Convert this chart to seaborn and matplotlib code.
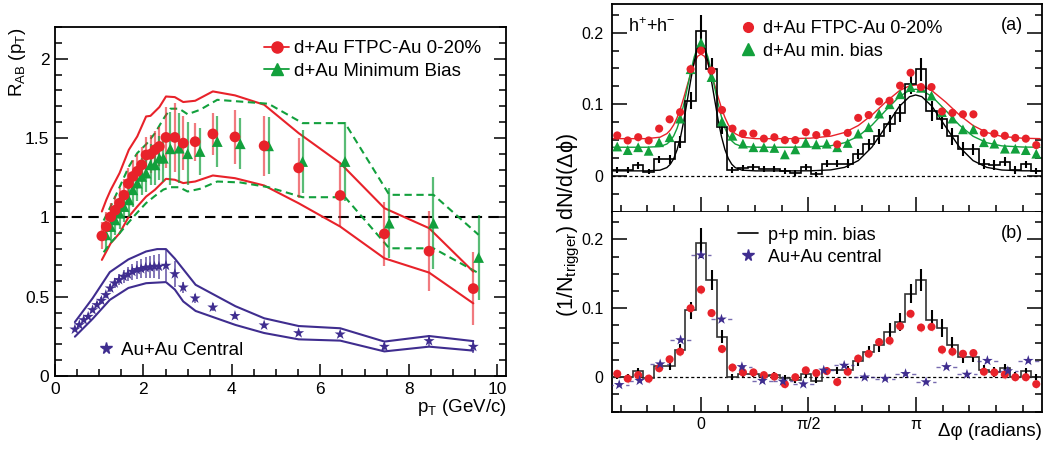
import numpy as np
import matplotlib
matplotlib.use("Agg")
import matplotlib.pyplot as plt
import seaborn as sns
from matplotlib.lines import Line2D
from matplotlib.ticker import MultipleLocator, FixedLocator, FuncFormatter

# ---------------- Left panel: R_AB vs pT ----------------
dau_cent_pt = [1.06, 1.16, 1.26, 1.36, 1.46, 1.56, 1.66, 1.76, 1.86, 1.96, 2.06, 2.16, 2.26, 2.36,
               2.51, 2.71, 2.90, 3.17, 3.57, 4.07, 4.73, 5.51, 6.45, 7.45, 8.46, 9.46]
dau_cent_r = [0.883, 0.942, 1.003, 1.045, 1.089, 1.140, 1.213, 1.258, 1.290, 1.331, 1.393, 1.398, 1.426, 1.447,
              1.504, 1.504, 1.468, 1.477, 1.526, 1.507, 1.451, 1.312, 1.138, 0.896, 0.787, 0.551]
dau_cent_err = [0.085, 0.09, 0.09, 0.09, 0.095, 0.10, 0.10, 0.105, 0.11, 0.11, 0.115, 0.12, 0.12, 0.125,
                0.19, 0.22, 0.17, 0.12, 0.13, 0.17, 0.19, 0.19, 0.20, 0.20, 0.25, 0.23]

dau_mb_pt = [1.15, 1.26, 1.36, 1.46, 1.56, 1.67, 1.76, 1.86, 1.96, 2.06, 2.16, 2.26, 2.36, 2.45,
             2.61, 2.81, 3.00, 3.28, 3.67, 4.19, 4.83, 5.60, 6.56, 7.56, 8.56, 9.58]
dau_mb_r = [0.890, 0.942, 0.984, 1.026, 1.068, 1.110, 1.174, 1.216, 1.258, 1.279, 1.331, 1.331, 1.373, 1.373,
            1.432, 1.436, 1.401, 1.415, 1.478, 1.464, 1.451, 1.352, 1.352, 0.963, 0.963, 0.747]
dau_mb_err = [0.09, 0.09, 0.095, 0.10, 0.10, 0.105, 0.11, 0.11, 0.115, 0.12, 0.13, 0.13, 0.14, 0.15,
              0.23, 0.22, 0.20, 0.15, 0.16, 0.16, 0.18, 0.20, 0.25, 0.22, 0.29, 0.27]

auau_pt = [0.45, 0.55, 0.65, 0.75, 0.85, 0.95, 1.05, 1.15, 1.25, 1.35, 1.45, 1.55, 1.65, 1.75, 1.85,
           1.95, 2.05, 2.15, 2.25, 2.35, 2.51, 2.71, 2.90, 3.17, 3.57, 4.07, 4.73, 5.51, 6.45, 7.45, 8.46, 9.46]
auau_r = [0.294, 0.322, 0.353, 0.374, 0.416, 0.448, 0.475, 0.511, 0.553, 0.585, 0.606, 0.627, 0.641, 0.658,
          0.669, 0.675, 0.683, 0.686, 0.690, 0.690, 0.696, 0.643, 0.559, 0.490, 0.433, 0.379, 0.320, 0.271,
          0.263, 0.185, 0.221, 0.185]
auau_err = [0.01, 0.01, 0.01, 0.01, 0.015, 0.015, 0.02, 0.02, 0.025, 0.03, 0.035, 0.04, 0.045, 0.05, 0.055,
            0.06, 0.065, 0.07, 0.075, 0.08, 0.10, 0.08, 0.035, 0.03, 0.025, 0.02, 0.015, 0.015, 0.02, 0.02,
            0.035, 0.04]

# systematic bands
cent_up_pt = [1.06, 1.16, 1.26, 1.46, 1.67, 1.86, 2.06, 2.16, 2.36, 2.51, 2.71, 2.90, 3.17, 3.57, 4.07,
              4.73, 5.51, 6.45, 7.45, 8.46, 9.46]
cent_up_r = [1.037, 1.110, 1.173, 1.279, 1.426, 1.510, 1.636, 1.640, 1.695, 1.762, 1.758, 1.727, 1.735, 1.794,
             1.769, 1.710, 1.531, 1.342, 1.058, 0.932, 0.658]
cent_lo_pt = [1.06, 1.26, 1.46, 1.67, 1.86, 2.06, 2.26, 2.51, 2.71, 2.90, 3.17, 3.57, 4.07, 4.73, 5.51,
              6.45, 7.45, 8.46, 9.46]
cent_lo_r = [0.732, 0.837, 0.900, 1.005, 1.068, 1.131, 1.174, 1.243, 1.237, 1.216, 1.226, 1.264, 1.247, 1.201,
             1.089, 0.942, 0.742, 0.652, 0.458]

mb_band_pt = [1.10, 1.26, 1.46, 1.67, 1.86, 2.06, 2.26, 2.45, 2.61, 2.81, 3.00, 3.28, 3.67, 4.19, 4.83,
              5.60, 6.56, 7.56, 8.56, 9.58]
mb_up_r = [0.98, 1.07, 1.19, 1.32, 1.405, 1.46, 1.53, 1.62, 1.685, 1.685, 1.65, 1.678, 1.741, 1.73, 1.716,
           1.594, 1.594, 1.142, 1.142, 0.89]
mb_lo_r = [0.78, 0.84, 0.90, 0.97, 1.03, 1.09, 1.135, 1.175, 1.19, 1.19, 1.163, 1.18, 1.226, 1.22, 1.19,
           1.127, 1.127, 0.805, 0.805, 0.648]

auau_up_pt = [0.45, 0.85, 1.24, 1.66, 2.06, 2.31, 2.51, 2.71, 3.18, 4.08, 4.73, 5.51, 6.45, 7.45, 8.46, 9.46]
auau_up_r = [0.34, 0.49, 0.655, 0.735, 0.785, 0.80, 0.80, 0.74, 0.575, 0.44, 0.364, 0.315, 0.301, 0.217,
             0.252, 0.22]
auau_lo_pt = [0.45, 0.85, 1.24, 1.66, 2.06, 2.51, 2.71, 2.90, 3.18, 4.08, 4.73, 5.51, 6.45, 7.45, 8.46, 9.46]
auau_lo_r = [0.248, 0.36, 0.48, 0.555, 0.585, 0.592, 0.545, 0.47, 0.41, 0.322, 0.271, 0.231, 0.223, 0.155,
             0.185, 0.16]

# ---------------- Right panels: dN/d(dphi) ----------------
bin_index = np.arange(-8, 33)          # 41 bins over 2*pi
bin_w = 2 * np.pi / 41
pp_a = [0.008, 0.008, 0.015, 0.006, 0.023, 0.023, 0.047, 0.105, 0.202, 0.149, 0.068, 0.008, 0.011, 0.012,
        0.010, 0.010, 0.007, 0.004, 0.012, 0.002, 0.017, 0.017, 0.017, 0.030, 0.044, 0.055, 0.073, 0.088,
        0.128, 0.149, 0.091, 0.079, 0.055, 0.038, 0.037, 0.017, 0.015, 0.020, 0.008, 0.016, 0.007]
pp_err = [0.004, 0.004, 0.005, 0.004, 0.005, 0.006, 0.008, 0.012, 0.022, 0.015, 0.009, 0.004, 0.004, 0.004,
          0.004, 0.004, 0.004, 0.004, 0.004, 0.004, 0.005, 0.005, 0.006, 0.007, 0.008, 0.010, 0.012, 0.013,
          0.014, 0.016, 0.014, 0.013, 0.012, 0.010, 0.008, 0.007, 0.007, 0.006, 0.006, 0.005, 0.004]
dau_cent_a = [0.0565, 0.0495, 0.054, 0.0495, 0.066, 0.079, 0.089, 0.149, 0.175, 0.147, 0.092, 0.066, 0.059,
              0.059, 0.052, 0.054, 0.050, 0.050, 0.061, 0.057, 0.060, 0.044, 0.060, 0.081, 0.085, 0.104,
              0.105, 0.126, 0.144, 0.124, 0.124, 0.090, 0.088, 0.086, 0.086, 0.060, 0.059, 0.056, 0.053,
              0.052, 0.043]
dau_mb_a = [0.041, 0.036, 0.040, 0.035, 0.047, 0.054, 0.080, 0.149, 0.186, 0.138, 0.076, 0.056, 0.045,
            0.040, 0.040, 0.039, 0.030, 0.037, 0.047, 0.044, 0.045, 0.040, 0.046, 0.059, 0.068, 0.087,
            0.100, 0.114, 0.124, 0.123, 0.112, 0.089, 0.080, 0.065, 0.065, 0.047, 0.045, 0.038, 0.038,
            0.036, 0.031]

fit_dphi = [-1.32, -1.0, -0.8, -0.6, -0.5, -0.45, -0.4, -0.35, -0.3, -0.25, -0.2, -0.15, -0.1, -0.05, 0.0,
            0.05, 0.1, 0.15, 0.2, 0.25, 0.3, 0.35, 0.4, 0.45, 0.5, 0.6, 0.8, 1.0, 1.3, 1.6, 1.9, 2.1, 2.3,
            2.5, 2.7, 2.9, 3.05, 3.14, 3.23, 3.38, 3.58, 3.78, 3.98, 4.18, 4.4, 4.7, 4.96]
fit_pp = [0.007, 0.007, 0.007, 0.008, 0.0116, 0.0162, 0.0241, 0.0366, 0.0545, 0.078, 0.106, 0.134, 0.160,
          0.178, 0.184, 0.178, 0.160, 0.134, 0.106, 0.078, 0.0545, 0.0366, 0.0241, 0.0162, 0.0116, 0.008,
          0.007, 0.007, 0.007, 0.0071, 0.0084, 0.0119, 0.0213, 0.0402, 0.0683, 0.097, 0.1106, 0.113, 0.1106,
          0.097, 0.0683, 0.0402, 0.0213, 0.0119, 0.0082, 0.0071, 0.007]
fit_cent = [0.052, 0.052, 0.052, 0.054, 0.059, 0.064, 0.0712, 0.0814, 0.0945, 0.110, 0.127, 0.143, 0.157,
            0.167, 0.170, 0.167, 0.157, 0.143, 0.127, 0.110, 0.0945, 0.0814, 0.0712, 0.064, 0.059, 0.054,
            0.052, 0.052, 0.052, 0.0527, 0.0555, 0.0606, 0.0703, 0.085, 0.103, 0.1188, 0.1258, 0.127, 0.1258,
            0.1188, 0.103, 0.085, 0.0703, 0.0606, 0.0551, 0.0526, 0.052]
fit_mb = [0.040, 0.040, 0.040, 0.041, 0.0445, 0.0488, 0.0558, 0.0666, 0.0817, 0.101, 0.123, 0.146, 0.166,
          0.180, 0.185, 0.180, 0.166, 0.146, 0.123, 0.101, 0.0817, 0.0666, 0.0558, 0.0488, 0.0445, 0.041,
          0.040, 0.040, 0.040, 0.0403, 0.0421, 0.0463, 0.0553, 0.0708, 0.0913, 0.1107, 0.1195, 0.121, 0.1195,
          0.1107, 0.0913, 0.0708, 0.0553, 0.0463, 0.0419, 0.0403, 0.040]

pp_b = [0.001, 0.001, 0.009, -0.001, 0.016, 0.016, 0.040, 0.097, 0.195, 0.141, 0.059, 0.000, 0.004, 0.004,
        0.002, 0.003, -0.001, -0.004, 0.004, -0.005, 0.010, 0.010, 0.010, 0.023, 0.037, 0.047, 0.066, 0.080,
        0.121, 0.141, 0.083, 0.071, 0.047, 0.030, 0.030, 0.010, 0.008, 0.013, 0.001, 0.009, 0.000]
dau_cent_b = [0.005, -0.002, 0.003, -0.002, 0.013, 0.026, 0.037, 0.100, 0.127, 0.093, 0.041, 0.014, 0.007,
              0.007, 0.003, 0.001, -0.010, 0.000, 0.010, 0.006, 0.009, -0.007, 0.008, 0.027, 0.034, 0.051,
              0.053, 0.074, 0.092, 0.072, 0.073, 0.040, 0.037, 0.034, 0.035, 0.008, 0.007, 0.004, 0.000,
              0.000, -0.010]
auau_dphi = [-1.197, -0.898, -0.598, -0.299, 0.0, 0.299, 0.598, 0.898, 1.197, 1.496, 1.795, 2.094, 2.394,
             2.693, 2.992, 3.291, 3.590, 3.890, 4.189, 4.488, 4.787]
auau_b = [-0.011, -0.005, 0.019, 0.054, 0.177, 0.084, 0.015, -0.005, -0.006, -0.010, 0.010, 0.017, 0.000,
          -0.002, 0.005, -0.007, 0.015, 0.004, 0.024, 0.009, 0.024]

RED = '#e8222a'
GREEN = '#12a03c'
PURPLE = '#3f2d8f'

sns.set_theme(style="ticks")
plt.rcParams['font.family'] = ['Liberation Sans', 'DejaVu Sans']
plt.rcParams['mathtext.fontset'] = 'custom'
plt.rcParams['mathtext.rm'] = 'Liberation Sans'
plt.rcParams['mathtext.it'] = 'Liberation Sans:italic'
plt.rcParams['mathtext.bf'] = 'Liberation Sans:bold'
plt.rcParams['mathtext.default'] = 'rm'
for k in ['axes.edgecolor', 'xtick.color', 'ytick.color', 'text.color', 'axes.labelcolor']:
    plt.rcParams[k] = 'black'

W, H = 1048, 450
fig = plt.figure(figsize=(W / 100, H / 100), dpi=100)


def fr(l, t, r, b):
    return [l / W, 1 - b / H, (r - l) / W, (b - t) / H]


axL = fig.add_axes(fr(55, 27, 506, 376))
axA = fig.add_axes(fr(612, 4, 1041.5, 211.7))
axB = fig.add_axes(fr(612, 211.7, 1041.5, 411.7))

# ---------------- left panel ----------------
def band(ax, x, y, color, ls='-'):
    sns.lineplot(x=x, y=y, ax=ax, color=color, lw=1.5, sort=False, estimator=None, legend=False,
                 linestyle=ls, zorder=2)

band(axL, cent_up_pt, cent_up_r, RED)
band(axL, cent_lo_pt, cent_lo_r, RED)
band(axL, mb_band_pt, mb_up_r, GREEN, (0, (3.5, 2.2)))
band(axL, mb_band_pt, mb_lo_r, GREEN, (0, (3.5, 2.2)))
band(axL, auau_up_pt, auau_up_r, PURPLE)
band(axL, auau_lo_pt, auau_lo_r, PURPLE)

axL.axhline(1.0, color='black', lw=1.5, ls=(0, (5, 3)), zorder=1)

axL.errorbar(dau_cent_pt, dau_cent_r, yerr=dau_cent_err, fmt='none', ecolor=RED, elinewidth=1.6,
             alpha=0.6, zorder=3)
axL.errorbar(dau_mb_pt, dau_mb_r, yerr=dau_mb_err, fmt='none', ecolor=GREEN, elinewidth=1.6,
             alpha=0.7, zorder=3)
axL.errorbar(auau_pt, auau_r, yerr=auau_err, fmt='none', ecolor=PURPLE, elinewidth=1.3,
             alpha=0.7, zorder=3)

sns.scatterplot(x=dau_mb_pt, y=dau_mb_r, ax=axL, marker='^', s=60, color=GREEN, edgecolor='none',
                zorder=5, legend=False)
sns.scatterplot(x=dau_cent_pt, y=dau_cent_r, ax=axL, marker='o', s=60, color=RED, edgecolor='none',
                zorder=6, legend=False)
sns.scatterplot(x=auau_pt, y=auau_r, ax=axL, marker='*', s=70, color=PURPLE, edgecolor='none',
                zorder=6, legend=False)

axL.set_xlim(0, 10.2)
axL.set_ylim(0, 2.2)
axL.xaxis.set_major_locator(MultipleLocator(2))
axL.xaxis.set_minor_locator(MultipleLocator(0.5))
axL.yaxis.set_major_locator(MultipleLocator(0.5))
axL.yaxis.set_minor_locator(MultipleLocator(0.1))
gfmt = FuncFormatter(lambda v, p: '%g' % v)
axL.xaxis.set_major_formatter(gfmt)
axL.yaxis.set_major_formatter(gfmt)
axL.tick_params(which='both', direction='in', top=False, right=True, labelsize=12.5, width=1.1)
axL.tick_params(which='major', length=9, pad=4)
axL.tick_params(which='minor', length=5)
for s in axL.spines.values():
    s.set_linewidth(1.3)

hL = [Line2D([], [], color=RED, marker='o', ms=8, lw=1.3),
      Line2D([], [], color=GREEN, marker='^', ms=8, lw=1.3)]
axL.legend(hL, ['d+Au FTPC-Au 0-20%', 'd+Au Minimum Bias'], loc='upper left',
           bbox_to_anchor=((264 - 55) / 451, (376 - 40) / 349), frameon=False, fontsize=13.5,
           handlelength=1.35, handletextpad=0.25, labelspacing=0.3, borderpad=0, borderaxespad=0)
leg2 = Line2D([], [], color=PURPLE, marker='*', ms=8.5, lw=0)
fig.legend([leg2], ['Au+Au Central'], loc='center left',
           bbox_to_anchor=(97 / W, 1 - 350 / H), frameon=False, fontsize=13.5,
           handlelength=1.0, handletextpad=0.3, borderpad=0, borderaxespad=0)

fig.text(18 / W, 1 - 28 / H, r'R$_{\rm AB}$ (p$_{\rm T}$)', rotation=90, ha='center', va='top',
         fontsize=13.5)
fig.text(507 / W, 1 - 408 / H, r'p$_{\rm T}$ (GeV/c)', ha='right', va='center', fontsize=13.5)

# ---------------- right panels ----------------
centers = bin_index * bin_w
edges = (np.arange(-8, 34) - 0.5) * bin_w

for ax in (axA, axB):
    ax.axhline(0, color='black', lw=0.9, ls=(0, (2.5, 2)), zorder=1)

axA.stairs(pp_a, edges, baseline=None, color='black', lw=1.2, zorder=3)
axA.errorbar(centers, pp_a, yerr=pp_err, fmt='none', ecolor='black', elinewidth=1.5, zorder=4)
sns.lineplot(x=fit_dphi, y=fit_cent, ax=axA, color=RED, lw=1.0, sort=False, estimator=None, legend=False, zorder=2)
sns.lineplot(x=fit_dphi, y=fit_mb, ax=axA, color=GREEN, lw=1.0, sort=False, estimator=None, legend=False, zorder=2)
sns.lineplot(x=fit_dphi, y=fit_pp, ax=axA, color='black', lw=1.0, sort=False, estimator=None, legend=False, zorder=2)
axA.errorbar(centers, dau_cent_a, yerr=0.005, xerr=0.04, fmt='none', ecolor=RED, elinewidth=1.0,
             alpha=0.35, zorder=4)
sns.scatterplot(x=centers, y=dau_mb_a, ax=axA, marker='^', s=50, color=GREEN, edgecolor='none', zorder=5,
                legend=False)
sns.scatterplot(x=centers, y=dau_cent_a, ax=axA, marker='o', s=34, color=RED, edgecolor='none', zorder=6,
                legend=False)

axB.stairs(pp_b, edges, baseline=None, color='#333333', lw=1.2, zorder=3)
axB.errorbar(centers, pp_b, yerr=pp_err, fmt='none', ecolor='black', elinewidth=1.5, zorder=4)
axB.errorbar(centers, dau_cent_b, yerr=0.006, xerr=0.04, fmt='none', ecolor=RED, elinewidth=1.0,
             alpha=0.35, zorder=4)
eb = axB.errorbar(auau_dphi, auau_b, xerr=0.15, fmt='none', ecolor=PURPLE, elinewidth=1.0, alpha=0.7,
                  zorder=4)
for lc in eb[2]:
    lc.set_linestyle((0, (3, 3)))
sns.scatterplot(x=centers, y=dau_cent_b, ax=axB, marker='o', s=34, color=RED, edgecolor='none', zorder=5,
                legend=False)
sns.scatterplot(x=auau_dphi, y=auau_b, ax=axB, marker='*', s=65, color=PURPLE, edgecolor='none', zorder=6,
                legend=False)

for ax in (axA, axB):
    ax.set_xlim(edges[0], edges[-1])
    ax.set_ylim(-0.05, 0.24)
    ax.yaxis.set_major_locator(MultipleLocator(0.1))
    ax.yaxis.set_minor_locator(MultipleLocator(0.025))
    ax.yaxis.set_major_formatter(gfmt)
    ax.xaxis.set_major_locator(FixedLocator([0, np.pi / 2, np.pi]))
    ax.xaxis.set_minor_locator(FixedLocator(np.arange(-3, 13) * np.pi / 8))
    ax.tick_params(which='both', direction='in', right=True, top=False, labelsize=11.5, width=1.1)
    ax.tick_params(which='major', length=11, pad=6)
    ax.tick_params(which='minor', length=5)
    for s in ax.spines.values():
        s.set_linewidth(1.3)
axA.set_xticklabels([])
axB.set_xticklabels(['0', 'π/2', 'π'])
axB.tick_params(axis='x', pad=4)
axB.spines['top'].set_visible(False)

hA = [Line2D([], [], color=RED, marker='o', ms=7, lw=0),
      Line2D([], [], color=GREEN, marker='^', ms=8.5, lw=0)]
axA.legend(hA, ['d+Au FTPC-Au 0-20%', 'd+Au min. bias'], loc='upper left',
           bbox_to_anchor=((739 - 612) / 429.5, (207.7 - 16) / 207.7), frameon=False, fontsize=13,
           handlelength=1.0, handletextpad=0.35, labelspacing=0.32, borderpad=0, borderaxespad=0)
hB = [Line2D([], [], color='black', lw=1.2),
      Line2D([], [], color=PURPLE, marker='*', ms=8.5, lw=0)]
axB.legend(hB, ['p+p min. bias', 'Au+Au central'], loc='upper left',
           bbox_to_anchor=((738 - 612) / 429.5, (200 - 15) / 200), frameon=False, fontsize=13,
           handlelength=1.1, handletextpad=0.55, labelspacing=0.28, borderpad=0, borderaxespad=0)

fig.text(628 / W, 1 - 27 / H, r'h$^{+}$+h$^{-}$', ha='left', va='center', fontsize=13)
fig.text(1023 / W, 1 - 25 / H, '(a)', ha='right', va='center', fontsize=13)
fig.text(1023 / W, 1 - 234 / H, '(b)', ha='right', va='center', fontsize=13)
fig.text(569 / W, 1 - 225 / H, r'(1/N$_{\rm trigger}$) dN/d($\Delta\phi$)', rotation=90, ha='center',
         va='center', fontsize=15.5)
fig.text(1042 / W, 1 - 431 / H, 'Δφ (radians)', ha='right', va='center', fontsize=13.5)

fig.savefig('out.png', dpi=100)
